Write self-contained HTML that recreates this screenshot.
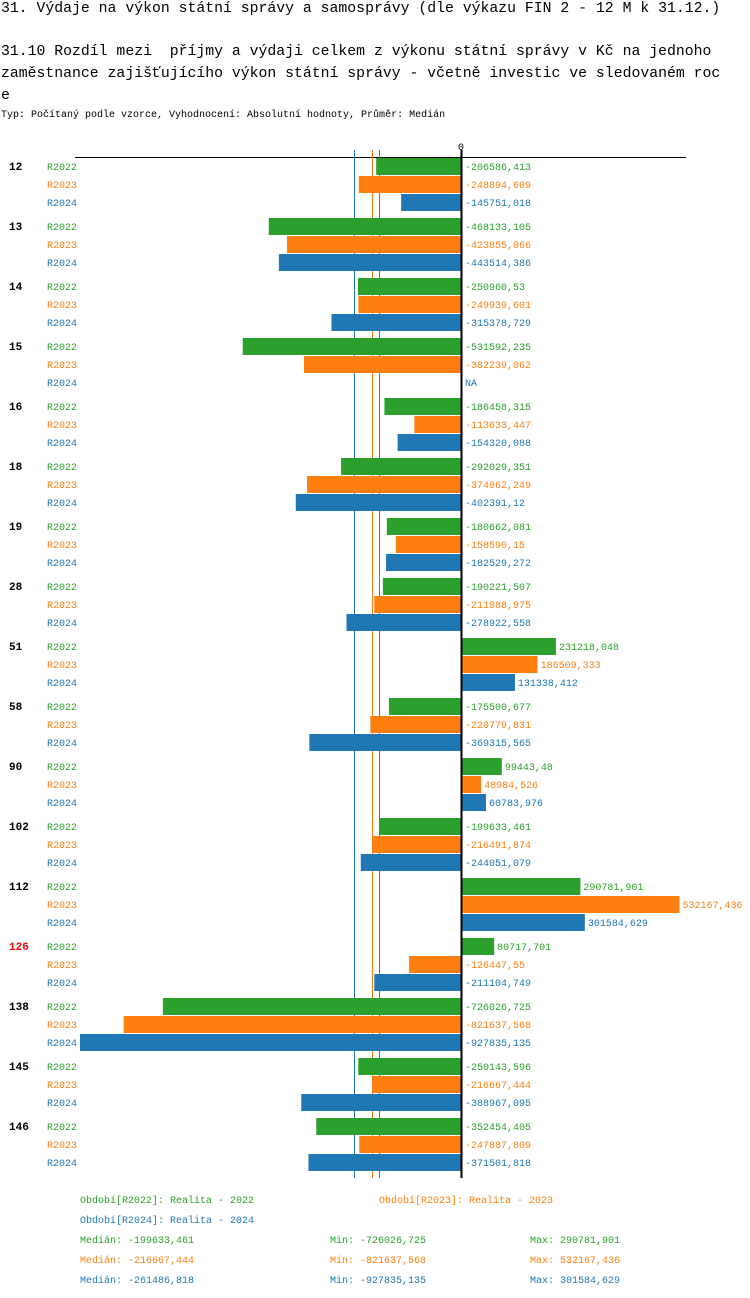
<!DOCTYPE html>
<html><head><meta charset="utf-8">
<style>
body{margin:0;background:#fff;width:750px;height:1298px;overflow:hidden;font-family:"Liberation Mono","DejaVu Sans Mono",monospace;}
.t{position:absolute;left:1px;white-space:pre;color:#000;}
svg{position:absolute;left:0;top:0}
</style></head><body>
<div class="t" style="top:1px;font-size:14.8px;">31. Výdaje na výkon státní správy a samosprávy (dle výkazu FIN 2 - 12 M k 31.12.)</div>
<div class="t" style="top:41px;font-size:14.8px;line-height:22px;">31.10 Rozdíl mezi  příjmy a výdaji celkem z výkonu státní správy v Kč na jednoho
zaměstnance zajišťujícího výkon státní správy - včetně investic ve sledovaném roc
e</div>
<div class="t" style="top:110px;font-size:10px;">Typ: Počítaný podle vzorce, Vyhodnocení: Absolutní hodnoty, Průměr: Medián</div>
<svg id="chart" width="750" height="1298" font-family="Liberation Mono, DejaVu Sans Mono, monospace" font-size="10"></svg>
<script>
const categories=["12","13","14","15","16","18","19","28","51","58","90","102","112","126","138","145","146"];
const seriesNames=["R2022","R2023","R2024"];
const r2022=[-206586.413,-468133.105,-250960.53,-531592.235,-186458.315,-292029.351,-180662.081,-190221.507,231218.048,-175500.677,99443.48,-199633.461,290781.901,80717.701,-726026.725,-250143.596,-352454.405];
const r2023=[-248894.609,-423855.066,-249939.601,-382239.062,-113633.447,-374962.249,-158590.15,-211088.975,186509.333,-220779.831,48984.526,-216491.874,532167.436,-126447.55,-821637.568,-216667.444,-247887.809];
const r2024=[-145751.018,-443514.386,-315378.729,null,-154320.088,-402391.12,-182529.272,-278922.558,131338.412,-369315.565,60783.976,-244051.079,301584.629,-211104.749,-927835.135,-388967.095,-371501.818];
const medians=[-199633.461,-216667.444,-261486.818];
const mins=["-726026,725","-821637,568","-927835,135"];
const maxs=["290781,901","532167,436","301584,629"];
const colors=["#2ca02c","#ff7f0e","#1f77b4"];
const series=[r2022,r2023,r2024];
const svg=document.getElementById('chart');
const NS='http://www.w3.org/2000/svg';
const x0=461, k=(461-80)/927835;
const xs=v=>x0+v*k;
const rowY=(g,s)=>166+g*60+s*18;
function mk(tag,attrs,txt){const e=document.createElementNS(NS,tag);for(const a in attrs)e.setAttribute(a,attrs[a]);if(txt!==undefined)e.textContent=txt;svg.appendChild(e);return e;}
let e;
e=mk('line',{x1:75,x2:686,y1:157.5,y2:157.5,stroke:'#000','stroke-width':1});


e=mk('text',{x:x0,y:150,'text-anchor':'middle',fill:'#000'},'0');


medians.forEach((m,i)=>{
 const x=Math.round(xs(m))+0.5;
 const l=mk('line',{x1:x,x2:x,y1:150,y2:1178,stroke:colors[i],'stroke-width':1});
 
 
});
categories.forEach((c,g)=>{
 const t=mk('text',{x:9,y:rowY(g,0)+4,'font-weight':'bold',fill:c==="126"?'#ff0000':'#000','font-size':11},c);
 
 
 series.forEach((arr,s)=>{
  const y=rowY(g,s);
  const lb=mk('text',{x:47,y:y+4,fill:colors[s]},seriesNames[s]);
  
  
  const v=arr[g];
  if(v===null){
   const na=mk('text',{x:x0+4,y:y+4,fill:colors[s]},'NA');
   
   
   return;
  }
  const xv=xs(v);
  const r=mk('rect',{x:Math.min(xv,x0),y:y-8,width:Math.abs(xv-x0),height:17,fill:colors[s]});
  
  
  const tx=v<0?x0+4:xv+3;
  const vt=mk('text',{x:tx,y:y+4,fill:colors[s]},String(v).replace('.',','));
  
  
 });
});
e=mk('line',{x1:x0+0.5,x2:x0+0.5,y1:150,y2:1178,stroke:'#000','stroke-width':2});


const leg=[[80,1203,0,'Období[R2022]: Realita - 2022'],[379,1203,1,'Období[R2023]: Realita - 2023'],[80,1223,2,'Období[R2024]: Realita - 2024']];
leg.forEach(a=>{const t=mk('text',{x:a[0],y:a[1],fill:colors[a[2]]},a[3]);
 
 });
medians.forEach((m,i)=>{
 const y=1243+i*20;
 const a=mk('text',{x:80,y:y,fill:colors[i]},'Medián: '+String(m).replace('.',','));
 
 
 const b=mk('text',{x:330,y:y,fill:colors[i]},'Min: '+mins[i]);
 
 
 const d=mk('text',{x:530,y:y,fill:colors[i]},'Max: '+maxs[i]);
 
 
});
</script>
</body></html>
